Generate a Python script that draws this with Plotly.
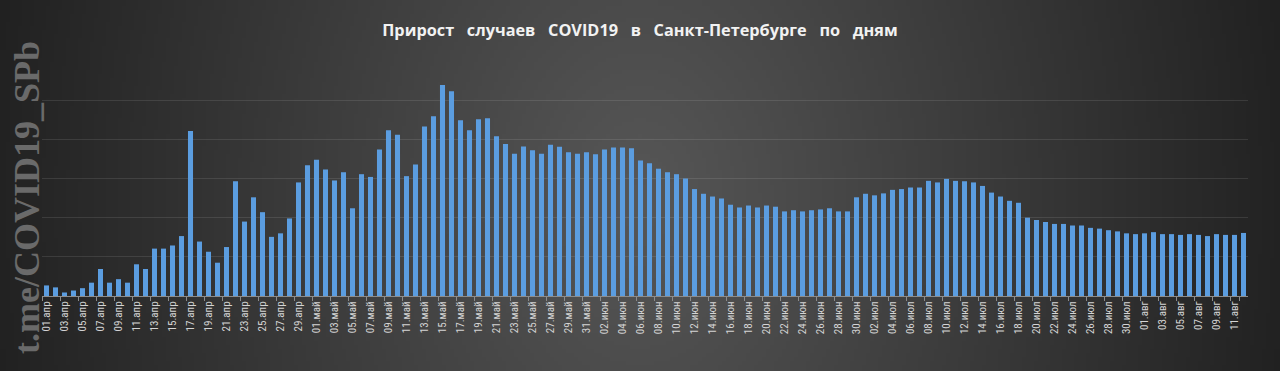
import base64, struct, zlib
import numpy as np
import plotly.graph_objects as go

# ---------------- data ----------------
month_names = ["апр", "май", "июн", "июл", "авг"]

apr = [27, 22, 9, 14, 20, 34, 69, 34, 43, 34, 81, 69, 121, 121, 129, 153, 421, 139, 113, 85,
       125, 293, 190, 252, 214, 151, 160, 198, 290, 334]
may = [348, 323, 295, 316, 224, 311, 304, 374, 423, 412, 306, 336, 433, 459, 539, 523, 449, 423,
       451, 454, 408, 388, 363, 382, 372, 363, 386, 381, 367, 363, 367]
jun = [362, 374, 379, 379, 377, 346, 339, 325, 316, 311, 300, 273, 261, 254, 249, 233, 226, 231,
       226, 231, 228, 216, 219, 216, 219, 221, 224, 216, 216, 252]
jul = [261, 257, 262, 271, 273, 277, 277, 294, 290, 299, 294, 293, 290, 281, 264, 254, 243, 238,
       200, 194, 189, 184, 184, 180, 180, 174, 172, 168, 165, 160, 158]
aug = [160, 163, 158, 158, 156, 158, 156, 153, 158, 156, 156, 161]

month_values = [apr, may, jun, jul, aug]

categories = []
values = []
for name, vals in zip(month_names, month_values):
    for i, v in enumerate(vals):
        categories.append(f"{i + 1:02d}.{name}")
        values.append(v)

tick_labels = categories[::2]

title_words = ["Прирост", "случаев", "COVID19", "в", "Санкт-Петербурге", "по", "дням"]
title_text = "\u00a0\u00a0 ".join(title_words)
watermark = "t.me/COVID19_SPb"

# ---------------- layout constants ----------------
W, H = 1280, 371
ML, MR, MT, MB = 42, 32, 61, 75
PW, PH = W - ML - MR, H - MT - MB

# ---------------- background gradient image ----------------
iw, ih = 320, 93
xs = (np.arange(iw) + 0.5) / iw * W
ys = (np.arange(ih) + 0.5) / ih * H
X, Y = np.meshgrid(xs, ys)
r = np.sqrt(((X - 640) / 660) ** 2 + ((Y - 200) / 900) ** 2)
r = np.clip(r, 0, 1)
edge, center = 0x21, 0x57
img = (center - (center - edge) * r).astype(np.uint8)

raw = b"".join(b"\x00" + img[row].tobytes() for row in range(ih))


def chunk(tag, data):
    c = struct.pack(">I", len(data)) + tag + data
    return c + struct.pack(">I", zlib.crc32(tag + data) & 0xFFFFFFFF)


png = (b"\x89PNG\r\n\x1a\n"
       + chunk(b"IHDR", struct.pack(">IIBBBBB", iw, ih, 8, 0, 0, 0, 0))
       + chunk(b"IDAT", zlib.compress(raw, 9))
       + chunk(b"IEND", b""))
bg_uri = "data:image/png;base64," + base64.b64encode(png).decode()

# ---------------- figure ----------------
fig = go.Figure()
fig.add_trace(go.Bar(
    x=categories,
    y=values,
    marker=dict(color="#5b9de0", line=dict(width=0)),
    hoverinfo="x+y",
))

fig.update_layout(
    width=W, height=H,
    margin=dict(l=ML, r=MR, t=MT, b=MB),
    paper_bgcolor="#3a3a3a",
    plot_bgcolor="rgba(0,0,0,0)",
    bargap=0.44,
    showlegend=False,
    title=dict(
        text=title_text,
        font=dict(family="Open Sans, DejaVu Sans, sans-serif", size=16.3, color="#f2f2f2", weight="bold"),
        x=0.5, xref="container", xanchor="center",
        y=1 - 30 / H, yref="container", yanchor="middle",
    ),
    images=[dict(
        source=bg_uri, xref="paper", yref="paper",
        x=-ML / PW, y=1 + MT / PH, sizex=W / PW, sizey=H / PH,
        xanchor="left", yanchor="top", sizing="stretch", layer="below",
    )],
    annotations=[dict(
        text="<b>" + watermark + "</b>",
        textangle=-90,
        xref="paper", yref="paper",
        x=(27 - ML) / PW, y=(H - MB - 198) / PH,
        xanchor="center", yanchor="middle",
        showarrow=False,
        font=dict(family="Liberation Serif, DejaVu Serif, serif", size=36, color="#6a6a6a"),
    )],
)

fig.update_xaxes(
    type="category",
    tickmode="array",
    tickvals=tick_labels,
    ticktext=tick_labels,
    tickangle=-90,
    tickfont=dict(family="Liberation Sans Narrow, Roboto Condensed, Liberation Sans, sans-serif",
                  size=11, color="#d4d4d4"),
    showline=True, linecolor="#8c8c8c", linewidth=1,
    ticks="outside", ticklen=4, tickcolor="#8c8c8c",
    tickson="boundaries",
    showgrid=False,
)

fig.update_yaxes(
    range=[0, 600],
    dtick=100,
    showticklabels=False,
    showgrid=True,
    gridcolor="rgba(255,255,255,0.10)",
    gridwidth=1,
    zeroline=False,
)

fig.write_html(
    "out.html",
    config={"displayModeBar": False},
    post_script="document.body.style.margin='0';document.body.style.overflow='hidden';",
)
